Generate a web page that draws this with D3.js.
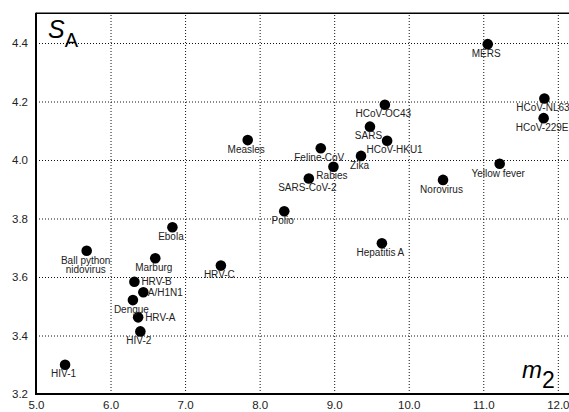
<!DOCTYPE html>
<html>
<head>
<meta charset="utf-8">
<script src="https://cdn.jsdelivr.net/npm/d3@7"></script>
<style>
  html, body { margin: 0; padding: 0; background: #fff; }
  svg { display: block; font-family: "Liberation Sans", Arial, Helvetica, sans-serif; }
</style>
</head>
<body>
<svg id="chart" width="569" height="412"></svg>
<script>
// Virus names with their m2 and S_A values
const viruses = [
  "HIV-1", "Ball python nidovirus", "HIV-2", "HRV-A", "Dengue", "A/H1N1", "HRV-B",
  "Marburg", "Ebola", "HRV-C", "Measles", "Polio", "SARS-CoV-2", "Rabies",
  "Feline-CoV", "Zika", "SARS", "HCoV-HKU1", "HCoV-OC43", "Hepatitis A",
  "Norovirus", "Yellow fever", "HCoV-229E", "HCoV-NL63", "MERS"
];
const m2Values = [
  5.39, 5.68, 6.40, 6.37, 6.30, 6.44, 6.32,
  6.60, 6.83, 7.48, 7.84, 8.33, 8.66, 8.99,
  8.82, 9.36, 9.48, 9.71, 9.68, 9.64,
  10.46, 11.22, 11.81, 11.82, 11.06
];
const saValues = [
  3.30, 3.69, 3.414, 3.462, 3.521, 3.548, 3.584,
  3.664, 3.77, 3.639, 4.068, 3.825, 3.937, 3.977,
  4.04, 4.014, 4.114, 4.066, 4.189, 3.715,
  3.932, 3.987, 4.143, 4.21, 4.396
];
const xTicks = [5, 6, 7, 8, 9, 10, 11, 12];
const yTicks = [3.2, 3.4, 3.6, 3.8, 4.0, 4.2, 4.4];

// Labels drawn to the right of their dot instead of underneath
const rightLabels = { "HRV-A": 7, "HRV-B": 7, "A/H1N1": 4.5 };
// Horizontal nudge for labels placed underneath
const labelShift = { "HCoV-HKU1": 9 };

const svg = d3.select("#chart");
const plotLeft = 36, plotTop = 13.75, plotBottom = 394, plotRight = 569;

const x = d3.scaleLinear().domain([5, 12.15]).range([plotLeft, plotRight]);
const y = d3.scaleLinear().domain([3.2, 4.5]).range([plotBottom, plotTop]);

// Dotted grid + tick labels from the axes
const gx = svg.append("g")
  .attr("transform", `translate(0,${plotBottom})`)
  .call(d3.axisBottom(x).tickValues(xTicks).tickFormat(d3.format(".1f"))
    .tickSize(-(plotBottom - plotTop)).tickPadding(7.2));
const gy = svg.append("g")
  .attr("transform", `translate(${plotLeft},0)`)
  .call(d3.axisLeft(y).tickValues(yTicks).tickFormat(d3.format(".1f"))
    .tickSize(-(plotRight - plotLeft)).tickPadding(8));

[gx, gy].forEach(g => {
  g.select(".domain").remove();
  g.selectAll(".tick line")
    .attr("stroke", "#111")
    .attr("stroke-width", 1)
    .attr("stroke-dasharray", "1,2");
  g.selectAll(".tick text")
    .attr("fill", "#222")
    .style("font-size", "11.5px")
    .style("font-family", "\"Liberation Sans\", Arial, Helvetica, sans-serif");
});

// Frame: left, top and bottom lines
svg.append("line").attr("x1", plotLeft).attr("x2", plotLeft)
  .attr("y1", plotTop - 1).attr("y2", plotBottom + 1)
  .attr("stroke", "#000").attr("stroke-width", 2);
svg.append("line").attr("x1", plotLeft).attr("x2", plotRight)
  .attr("y1", plotTop - 0.5).attr("y2", plotTop - 0.5)
  .attr("stroke", "#000").attr("stroke-width", 1.5);
svg.append("line").attr("x1", plotLeft).attr("x2", plotRight)
  .attr("y1", plotBottom).attr("y2", plotBottom)
  .attr("stroke", "#000").attr("stroke-width", 2);

// Points
const data = viruses.map((name, i) => ({ name, m2: m2Values[i], sa: saValues[i] }));

svg.append("g").selectAll("circle")
  .data(data)
  .join("circle")
  .attr("cx", d => x(d.m2))
  .attr("cy", d => y(d.sa))
  .attr("r", 5.3)
  .attr("fill", "#000");

// Point labels
const labels = svg.append("g")
  .style("font-size", "10px")
  .attr("fill", "#222");

data.forEach(d => {
  const cx = x(d.m2), cy = y(d.sa);
  if (d.name in rightLabels) {
    labels.append("text")
      .attr("x", cx + rightLabels[d.name])
      .attr("y", cy + 3.8)
      .attr("text-anchor", "start")
      .text(d.name);
  } else if (d.name === "Ball python nidovirus") {
    const t = labels.append("text")
      .attr("x", cx - 1)
      .attr("y", cy + 13)
      .attr("text-anchor", "middle");
    t.append("tspan").attr("x", cx - 1).text("Ball python");
    t.append("tspan").attr("x", cx - 1).attr("dy", 9.8).text("nidovirus");
  } else {
    labels.append("text")
      .attr("x", cx - 1.5 + (labelShift[d.name] || 0))
      .attr("y", cy + 12.7)
      .attr("text-anchor", "middle")
      .text(d.name);
  }
});

// Axis titles: S_A (top left) and m_2 (bottom right)
const saTitle = svg.append("text").attr("x", 48).attr("y", 38).attr("fill", "#000");
saTitle.append("tspan").style("font-size", "25px").style("font-style", "italic").text("S");
saTitle.append("tspan").style("font-size", "20px").attr("dx", 0).attr("dy", 9).text("A");

const m2Title = svg.append("text").attr("x", 522).attr("y", 378).attr("fill", "#000");
m2Title.append("tspan").style("font-size", "24px").style("font-style", "italic").text("m");
m2Title.append("tspan").style("font-size", "23px").attr("dy", 10).text("2");
</script>
</body>
</html>
